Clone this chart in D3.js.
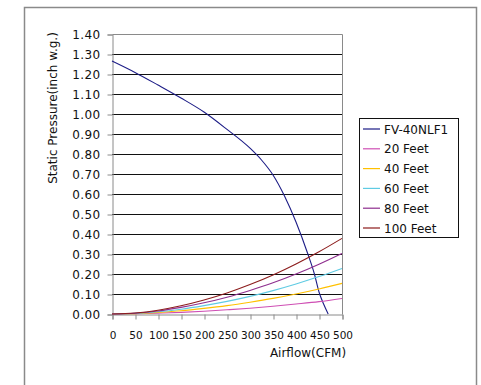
<!DOCTYPE html>
<html><head><meta charset="utf-8">
<script src="https://cdn.jsdelivr.net/npm/d3@7"></script>
<style>body{margin:0;background:#fff}svg{display:block;font-family:"DejaVu Sans",Verdana,sans-serif}</style>
</head><body><svg id="c" width="481" height="385"></svg>
<script>
const fanCFM = [0, 50, 100, 150, 200, 250, 300, 325, 350, 375, 400, 425, 440, 450, 460, 470];
const fanSP  = [1.265, 1.208, 1.145, 1.08, 1.01, 0.923, 0.829, 0.77, 0.695, 0.59, 0.46, 0.305, 0.2, 0.11, 0.05, 0.0];
const ductCFM = [0, 50, 100, 150, 200, 250, 300, 350, 400, 450, 500];
const feet20  = [0, 0.001, 0.004, 0.008, 0.014, 0.021, 0.029, 0.039, 0.050, 0.062, 0.078];
const feet40  = [0, 0.002, 0.008, 0.016, 0.028, 0.042, 0.059, 0.078, 0.100, 0.125, 0.153];
const feet60  = [0, 0.003, 0.011, 0.024, 0.042, 0.063, 0.088, 0.117, 0.150, 0.187, 0.228];
const feet80  = [0, 0.004, 0.015, 0.033, 0.056, 0.084, 0.118, 0.156, 0.200, 0.249, 0.303];
const feet100 = [0, 0.005, 0.019, 0.041, 0.070, 0.105, 0.147, 0.195, 0.250, 0.311, 0.378];
const seriesNames = ["FV-40NLF1", "20 Feet", "40 Feet", "60 Feet", "80 Feet", "100 Feet"];
const seriesColors = ["#1c1c86", "#cf4fb4", "#ffc000", "#5fcbe3", "#8e2e8e", "#8c1c1c"];
const xTicks = [0, 50, 100, 150, 200, 250, 300, 350, 400, 450, 500];
const yTicks = [0, 0.1, 0.2, 0.3, 0.4, 0.5, 0.6, 0.7, 0.8, 0.9, 1.0, 1.1, 1.2, 1.3, 1.4];

const series = [
  fanCFM.map((x, i) => [x, fanSP[i]]),
  ...[feet20, feet40, feet60, feet80, feet100].map(arr => ductCFM.map((x, i) => [x, arr[i]]))
];

const svg = d3.select("#c");
// outer chart frame
svg.append("path").attr("d", "M24.5,390 V7.5 H476.5 V390").attr("fill", "none").attr("stroke", "#8a8a8a").attr("stroke-width", 1.5);

const L = 112, R = 342, T = 34, B = 314;
const x = d3.scaleLinear().domain([0, 500]).range([L, R]);
const y = d3.scaleLinear().domain([0, 1.4]).range([B, T]);

// gridlines
svg.append("g").selectAll("line").data(yTicks.filter(v => v > 0 && v < 1.4)).join("line")
  .attr("x1", L).attr("x2", R).attr("y1", d => Math.round(y(d)) + 0.5).attr("y2", d => Math.round(y(d)) + 0.5)
  .attr("stroke", "#111").attr("stroke-width", 1);
// plot border top/right
svg.append("path").attr("d", `M${L + 0.5},${T + 0.5} H${R + 0.5} V${B + 0.5}`).attr("fill", "none").attr("stroke", "#8a8a8a");

// axes
const yAxis = svg.append("g").attr("transform", `translate(${L + 0.5},0.5)`)
  .call(d3.axisLeft(y).tickValues(yTicks).tickSize(5).tickPadding(7).tickFormat(d3.format(".2f")));
const xAxis = svg.append("g").attr("transform", `translate(0.5,${B + 0.5})`)
  .call(d3.axisBottom(x).tickValues(xTicks).tickSize(5).tickPadding(12).tickFormat(d3.format("d")));
[yAxis, xAxis].forEach(g => {
  g.select(".domain").attr("stroke", "#8a8a8a");
  g.selectAll(".tick line").attr("stroke", "#8a8a8a");
  g.selectAll("text").attr("fill", "#111").attr("font-family", "DejaVu Sans, Verdana, sans-serif");
});
yAxis.selectAll("text").attr("font-size", 12).attr("letter-spacing", 0.4);
xAxis.selectAll("text").attr("font-size", 10.5);

// lines
const line = d3.line().x(d => x(d[0])).y(d => y(d[1])).curve(d3.curveMonotoneX);
svg.append("g").selectAll("path").data(series).join("path")
  .attr("d", line).attr("fill", "none").attr("stroke", (d, i) => seriesColors[i]).attr("stroke-width", 1.1);

// axis titles
svg.append("text").attr("x", 308).attr("y", 357).attr("text-anchor", "middle").attr("font-size", 12).attr("fill", "#111").text("Airflow(CFM)");
svg.append("text").attr("transform", "translate(57,108) rotate(-90)").attr("text-anchor", "middle").attr("font-size", 12).attr("fill", "#111").text("Static Pressure(inch w.g.)");

// legend
const lg = svg.append("g");
lg.append("rect").attr("x", 359.5).attr("y", 118.5).attr("width", 99).attr("height", 119).attr("fill", "#fff").attr("stroke", "#111");
const items = lg.selectAll("g").data(seriesNames).join("g").attr("transform", (d, i) => `translate(0,${129 + i * 19.8})`);
items.append("line").attr("x1", 363).attr("x2", 380).attr("y1", 0).attr("y2", 0).attr("stroke", (d, i) => seriesColors[i]).attr("stroke-width", 1.2);
items.append("text").attr("x", 384).attr("y", 4.5).attr("font-size", 12).attr("fill", "#111").text(d => d);
</script>
</body></html>
